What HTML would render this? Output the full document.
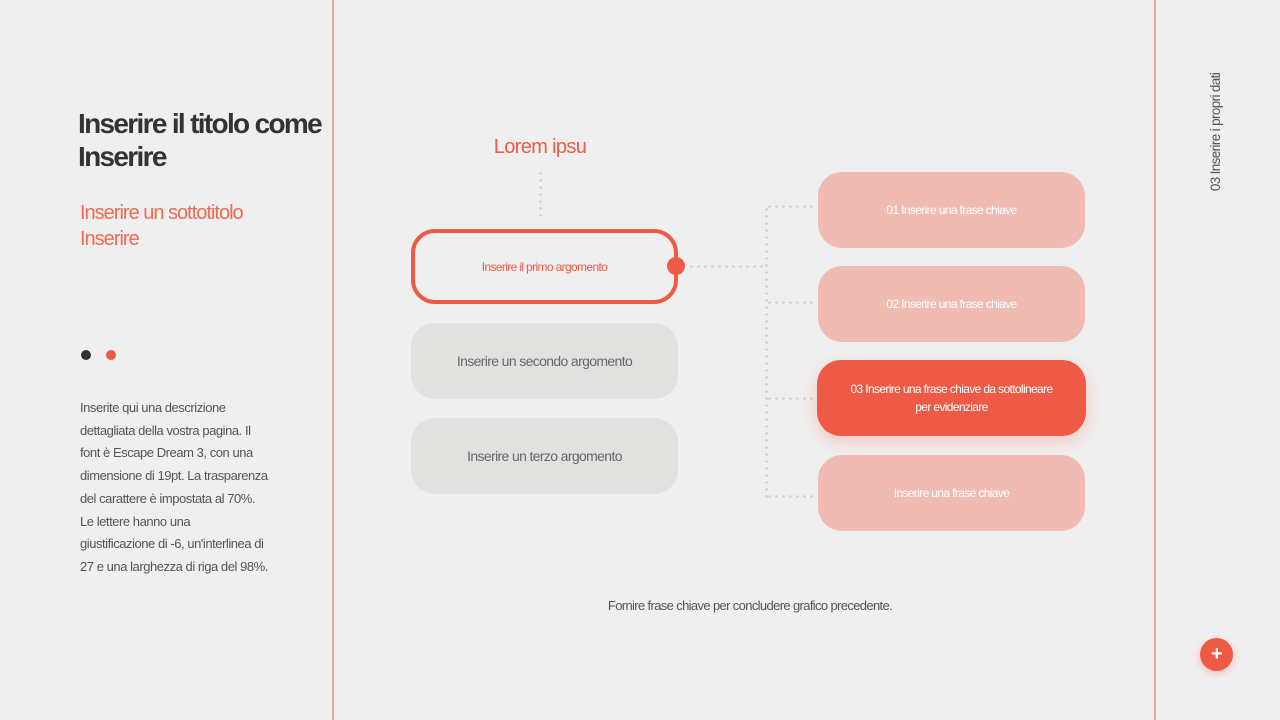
<!DOCTYPE html>
<html><head><meta charset="utf-8"><style>
*{margin:0;padding:0;box-sizing:border-box}
body{width:1280px;height:720px;background:#f0efef;position:relative;overflow:hidden;font-family:"Liberation Sans",sans-serif;letter-spacing:-0.04em}
.a{position:absolute}
.vl{position:absolute;top:0;width:2px;height:720px;background:#eaa99d}
.box{position:absolute;border-radius:24px;display:flex;align-items:center;justify-content:center;text-align:center}
.g{background:#e1e1df;color:#666;font-size:14px;width:267px;height:76px;left:411px}
.p{background:#f0bbb3;color:#fff;font-size:12px;width:267px;height:76px;left:818px}
.dv{position:absolute;width:3px;background:radial-gradient(circle,#d6cdce 1.2px,transparent 1.4px) 0 0/3px 7px repeat-y}
.dh{position:absolute;height:3px;background:radial-gradient(circle,#d6cdce 1.2px,transparent 1.4px) 0 0/7px 3px repeat-x}
</style></head><body>
<div class="vl" style="left:332px"></div>
<div class="vl" style="left:1154px"></div>
<div class="a" style="left:78px;top:107px;font-size:28px;font-weight:bold;color:#333;line-height:33px;letter-spacing:-0.06em">Inserire il titolo come<br>Inserire</div>
<div class="a" style="left:80px;top:200px;font-size:20px;color:#f06a50;line-height:26px;letter-spacing:-0.05em">Inserire un sottotitolo<br>Inserire</div>
<div class="a" style="left:81px;top:350px;width:10px;height:10px;border-radius:50%;background:#333"></div>
<div class="a" style="left:106px;top:350px;width:10px;height:10px;border-radius:50%;background:#ee5a45"></div>
<div class="a" style="left:80px;top:397px;font-size:13px;color:#555;line-height:22.7px;width:220px;letter-spacing:-0.035em">Inserite qui una descrizione<br>dettagliata della vostra pagina. Il<br>font è Escape Dream 3, con una<br>dimensione di 19pt. La trasparenza<br>del carattere è impostata al 70%.<br>Le lettere hanno una<br>giustificazione di -6, un'interlinea di<br>27 e una larghezza di riga del 98%.</div>
<div class="a" style="left:440px;top:136px;width:200px;text-align:center;font-size:20px;color:#ee5a45">Lorem ipsu</div>
<div class="dv" style="left:539px;top:170px;height:46px"></div>
<div class="box" style="left:411px;top:229px;width:267px;height:75px;border:4px solid #ee5a45;color:#ee5a45;font-size:12px">Inserire il primo argomento</div>
<div class="a" style="left:667px;top:257px;width:18px;height:18px;border-radius:50%;background:#ee5a45"></div>
<div class="box g" style="top:323px">Inserire un secondo argomento</div>
<div class="box g" style="top:418px">Inserire un terzo argomento</div>
<div class="dh" style="left:688px;top:265px;width:78px"></div>
<div class="dv" style="left:765px;top:206px;height:292px"></div>
<div class="dh" style="left:766px;top:205px;width:50px"></div>
<div class="dh" style="left:766px;top:301px;width:50px"></div>
<div class="dh" style="left:766px;top:397px;width:50px"></div>
<div class="dh" style="left:766px;top:495px;width:50px"></div>
<div class="box p" style="top:172px">01 Inserire una frase chiave</div>
<div class="box p" style="top:266px">02 Inserire una frase chiave</div>
<div class="box" style="left:817px;top:360px;width:269px;height:76px;background:#ee5a45;color:#fff;font-size:12px;line-height:18px;box-shadow:0 6px 16px rgba(238,90,69,0.25)">03 Inserire una frase chiave da sottolineare<br>per evidenziare</div>
<div class="box p" style="top:455px">Inserire una frase chiave</div>
<div class="a" style="left:500px;top:598px;width:500px;text-align:center;font-size:13px;color:#555">Fornire frase chiave per concludere grafico precedente.</div>
<div class="a" style="left:1146px;top:124px;width:140px;text-align:center;font-size:13.5px;color:#555;transform:rotate(-90deg);transform-origin:center;line-height:16px">03 Inserire i propri dati</div>
<div class="a" style="left:1200px;top:638px;width:33px;height:33px;border-radius:50%;background:#ee5a45;color:#fff;font-size:20px;font-weight:bold;text-align:center;line-height:32px;box-shadow:0 3px 8px rgba(238,90,69,0.3)">+</div>
</body></html>
